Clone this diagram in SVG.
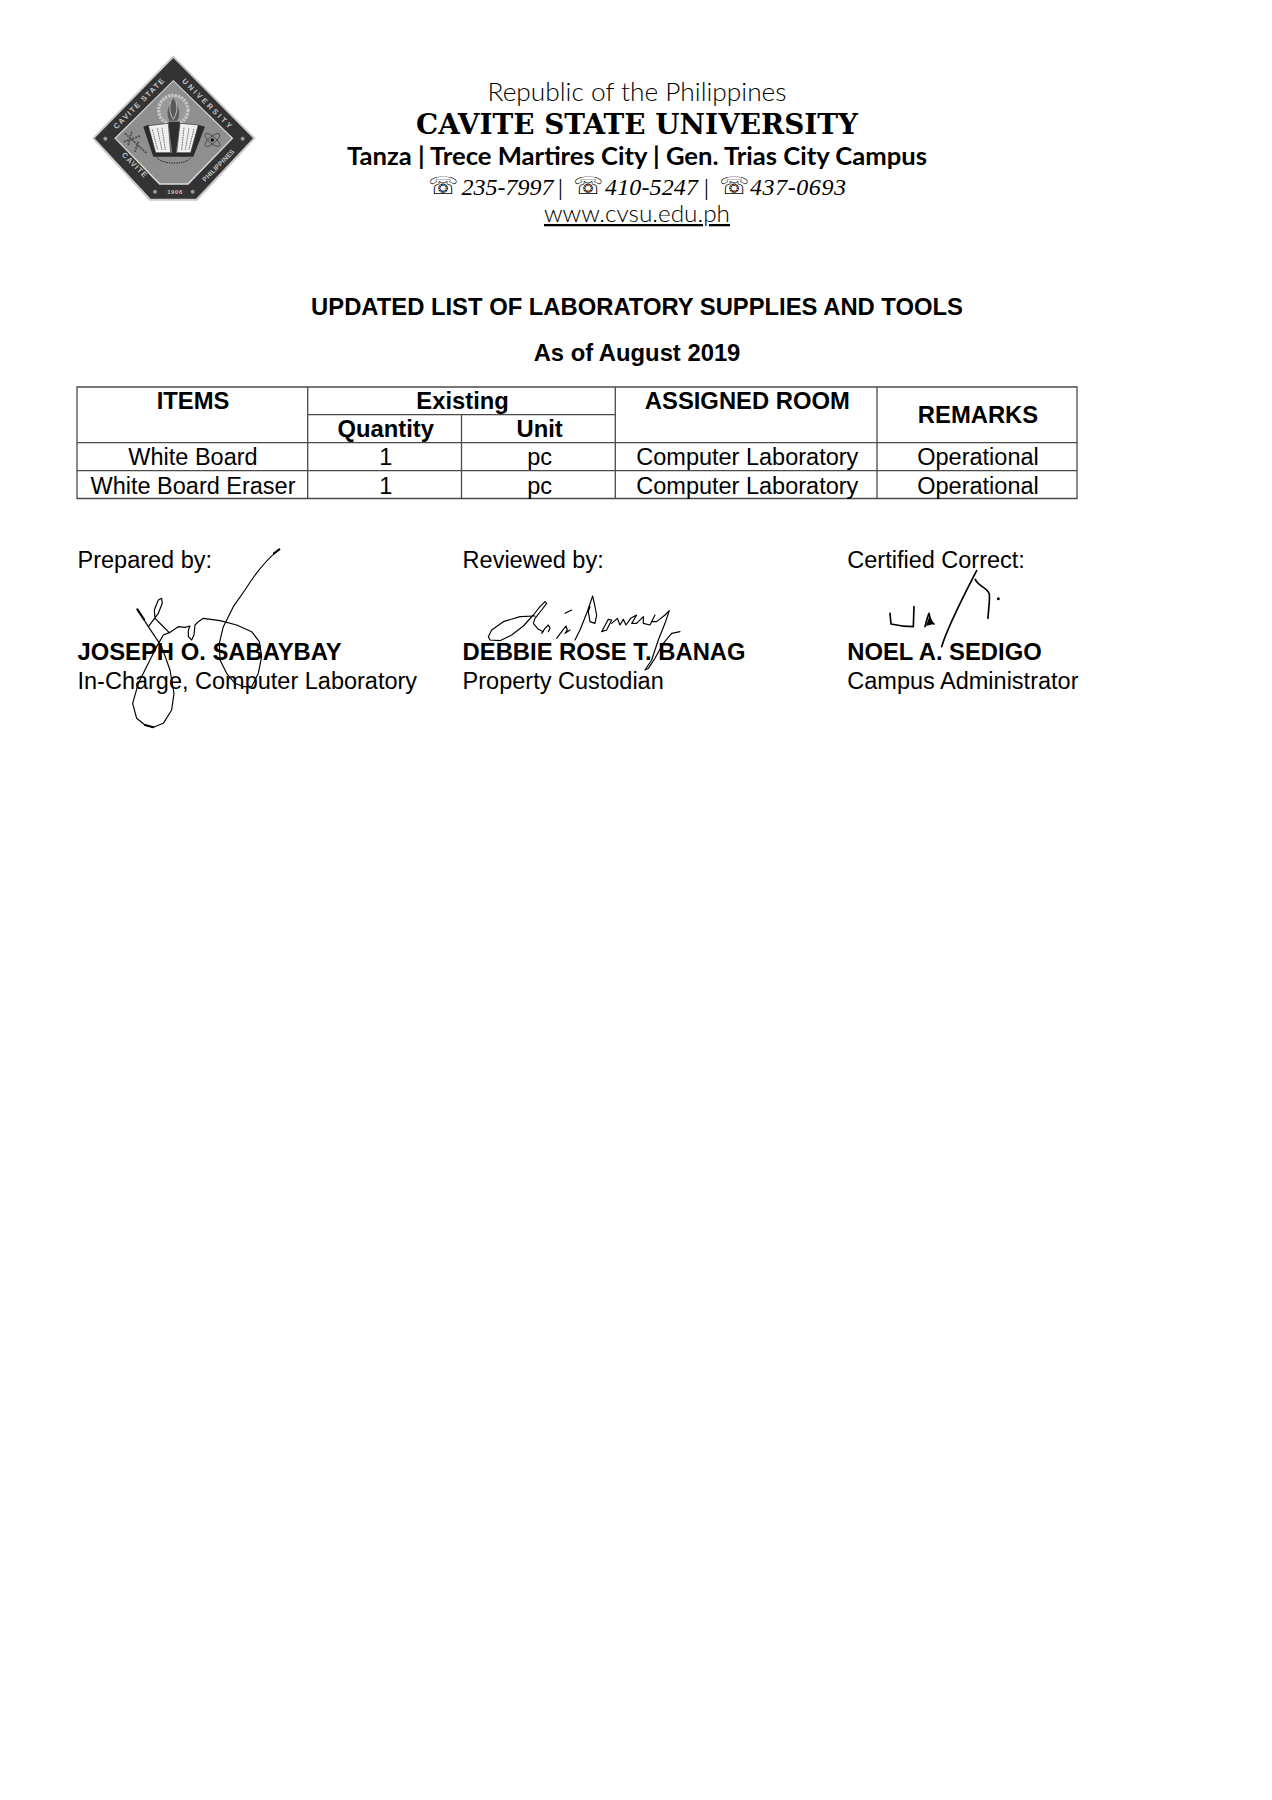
<svg xmlns="http://www.w3.org/2000/svg" width="1272" height="1800" viewBox="0 0 1272 1800">
<style>
text{fill:#000;font-family:"Liberation Sans",Arial,sans-serif}
.c{text-anchor:middle}
.n{font-size:23.5px}
.b{font-size:23.8px;font-weight:bold}
.h{font-family:Lato,"Open Sans",sans-serif}
.g{fill:none;stroke:#4a4a4a;stroke-width:1.3}
.s{fill:none;stroke:#000;stroke-width:3.5;stroke-linecap:round;stroke-linejoin:round}
.t{fill:#c4c4c4;font-size:7.5px;font-weight:bold;text-anchor:middle}
.m{font-family:"Liberation Serif",serif;font-size:24px;font-style:italic}
.p{font-family:"DejaVu Sans",sans-serif;font-size:24px}
.l{fill:none;stroke:#777;stroke-width:3;stroke-dasharray:5 2}
</style>
<rect width="1272" height="1800" fill="#fff"/>
<g id="logo" transform="translate(60,30) scale(.3333)">
<path d="M340 76L587 325L412 512H268L96 325Z" fill="#c9c9c9"/>
<path d="M340 84L579 325L408 506H272L104 325Z" fill="#333"/>
<path d="M340 150L520 325L385 464H298L163 325Z" fill="#ddd"/>
<path d="M340 154L515 325L383 460H300L168 325Z" fill="#8f8f8f"/>
<circle cx="340" cy="240" r="44" fill="#9a9a9a" stroke="#c6c6c6" stroke-width="10" stroke-dasharray="7 3"/>
<path d="M340 205C322 232 318 250 328 272H352C362 250 358 232 340 205Z" fill="#5a5a5a"/>
<path d="M332 215C326 240 332 255 340 268M348 215C354 240 348 255 340 268" fill="none" stroke="#bbb" stroke-width="3"/>
<path d="M250 290L280 380H400L435 290L414 284L390 368H292L266 284Z" fill="#2b2b2b"/>
<path d="M265 287L325 280L332 368H287Z" fill="#efefef" stroke="#333" stroke-width="2"/>
<path d="M360 280L415 285L392 368H350Z" fill="#efefef" stroke="#333" stroke-width="2"/>
<path class="l" d="M277 298L293 360M292 295L306 360M306 293L316 360M372 293L365 360M387 295L376 360M402 297L386 360"/>
<path d="M325 275H360L347 375H337Z" fill="#2f2f2f"/>
<path d="M290 382C305 405 380 405 393 382" fill="none" stroke="#222" stroke-width="3" stroke-dasharray="4 3"/>
<path d="M195 310L260 370M215 305L205 345M235 335L225 365M192 335L240 318" fill="none" stroke="#4a4a4a" stroke-width="5" stroke-dasharray="6 3"/>
<ellipse cx="457" cy="330" rx="28" ry="10" transform="rotate(40 457 330)" fill="none" stroke="#333" stroke-width="2"/>
<ellipse cx="457" cy="330" rx="28" ry="10" transform="rotate(-40 457 330)" fill="none" stroke="#333" stroke-width="2"/>
<circle cx="457" cy="330" r="5" fill="#111"/>
<circle cx="136" cy="326" r="6" fill="#999"/><circle cx="548" cy="326" r="6" fill="#999"/>
<circle cx="285" cy="485" r="6" fill="#999"/><circle cx="398" cy="485" r="6" fill="#999"/>
</g>
<g id="logo-text">
<text class="t" transform="translate(141,105) rotate(-45)" style="letter-spacing:1.4px">CAVITE STATE</text>
<text class="t" transform="translate(206,106) rotate(45)" style="letter-spacing:2.4px">UNIVERSITY</text>
<text class="t" transform="translate(133,167) rotate(45)" style="letter-spacing:1px">CAVITE</text>
<text class="t" transform="translate(220,167) rotate(-45)" style="font-size:6.5px;letter-spacing:.2px">PHILIPPINES</text>
<text class="t" x="175" y="194" style="font-size:6px;letter-spacing:.6px">1906</text>
</g>
<g id="header">
<text class="c h" x="637" y="101" font-size="25" font-weight="300" textLength="299" lengthAdjust="spacingAndGlyphs">Republic of the Philippines</text>
<text class="c" x="637" y="134" style="font-family:'DejaVu Serif',serif" font-size="27" font-weight="bold" textLength="442" lengthAdjust="spacingAndGlyphs">CAVITE STATE UNIVERSITY</text>
<text class="c h" x="637" y="165" font-size="25" font-weight="700" textLength="580" lengthAdjust="spacingAndGlyphs">Tanza | Trece Martires City | Gen. Trias City Campus</text>
<text class="p" x="428" y="194">☏</text>
<text class="m" x="461.5" y="195" textLength="92">235-7997</text>
<text class="m" x="558" y="195" style="font-style:normal">|</text>
<text class="p" x="573" y="194">☏</text>
<text class="m" x="605" y="195" textLength="93">410-5247</text>
<text class="m" x="704" y="195" style="font-style:normal">|</text>
<text class="p" x="719" y="194">☏</text>
<text class="m" x="750" y="195" textLength="96">437-0693</text>
<text class="c h" x="637" y="222" font-size="23" font-weight="300" text-decoration="underline" textLength="186" lengthAdjust="spacingAndGlyphs">www.cvsu.edu.ph</text>
</g>
<g id="title">
<text class="c b" x="637" y="315">UPDATED LIST OF LABORATORY SUPPLIES AND TOOLS</text>
<text class="c b" x="637" y="361">As of August 2019</text>
</g>
<g id="table">
<path class="g" d="M77 387H1077V498.5H77ZM307.7 387V498.5M615.3 387V498.5M877 387V498.5M307.7 414.7H615.3M461.5 414.7V498.5M77 442.7H1077M77 470.7H1077"/>
<text class="c b" x="193" y="409">ITEMS</text>
<text class="c b" x="462.6" y="409">Existing</text>
<text class="c b" x="747.3" y="409">ASSIGNED ROOM</text>
<text class="c b" x="978" y="423">REMARKS</text>
<text class="c b" x="385.7" y="437">Quantity</text>
<text class="c b" x="539.6" y="437">Unit</text>
<text class="c n" x="193" y="465">White Board</text>
<text class="c n" x="385.7" y="465">1</text>
<text class="c n" x="539.6" y="465">pc</text>
<text class="c n" x="747.3" y="465">Computer Laboratory</text>
<text class="c n" x="978" y="465">Operational</text>
<text class="c n" x="193" y="494">White Board Eraser</text>
<text class="c n" x="385.7" y="494">1</text>
<text class="c n" x="539.6" y="494">pc</text>
<text class="c n" x="747.3" y="494">Computer Laboratory</text>
<text class="c n" x="978" y="494">Operational</text>
</g>
<g id="signatories">
<text class="n" x="77.5" y="568">Prepared by:</text>
<text class="b" x="77.5" y="660">JOSEPH O. SABAYBAY</text>
<text class="n" x="77.5" y="689">In-Charge, Computer Laboratory</text>
<text class="n" x="462.6" y="568">Reviewed by:</text>
<text class="b" x="462.6" y="660">DEBBIE ROSE T. BANAG</text>
<text class="n" x="462.6" y="689">Property Custodian</text>
<text class="n" x="847.3" y="568">Certified Correct:</text>
<text class="b" x="847.3" y="660">NOEL A. SEDIGO</text>
<text class="n" x="847.3" y="689">Campus Administrator</text>
</g>
<g id="signature-1" transform="translate(120,590) scale(.3333)">
<path class="s" d="M478-122C430-85 400-40 375 0L340 50L310 110L298 160L300 210L320 250L345 280L370 290L395 290L415 250L425 200L418 155L395 125L350 105L300 92L250 85L235 95L225 105L222 135L215 150L205 140L205 120L210 108L195 112L175 110L160 120L148 128L130 135L110 170L85 220L55 280L38 340L50 385L75 405L100 412L130 400L155 360L162 310L150 240L125 170L85 110L52 58"/>
<path class="s" d="M148 128L125 105L105 85L103 60L115 30L125 25L127 40L115 70L85 110"/>
<path class="s" style="stroke-width:6" d="M52 58L72 88M478-122L462-110M75 405L100 412"/>
</g>
<g id="signature-2" transform="translate(480,590) scale(.3333)">
<path class="s" d="M165 78L120 80L70 95L35 120L25 140L30 150L60 152L95 135L130 108L160 75L180 50L195 35L200 40L185 60L165 85L160 100L175 118L190 125"/>
<path class="s" d="M185 130L195 115L205 105L210 115L205 125M230 145L245 125L258 108L262 120L255 130L270 120M255 70L275 60"/>
<path class="s" d="M285 150L300 120L320 70L338 18L343 40L350 75L345 100L330 95L325 65L330 50"/>
<path class="s" d="M365 125L385 88L395 90L380 120L365 125M395 100L412 85L420 105L430 88L438 105L452 85L470 75L455 100L470 100L490 80L490 100L510 105L525 75L515 95L530 95L555 75L568 62L555 100L535 150L515 210L495 240L505 235L525 205L550 160L575 130L600 125"/>
</g>
<g id="signature-3" transform="translate(830,530) scale(.3333)">
<path class="s" style="stroke-width:5" d="M180 250L183 282C205 287 230 290 250 290L252 230M285 290C290 270 295 255 297 250C300 265 305 278 312 282M335 350C355 285 400 200 440 122M436 148C445 170 470 170 478 192C480 215 475 240 474 265"/>
<path d="M288 288L297 262L312 282Z" fill="#000"/>
<circle cx="505" cy="206" r="4.5"/>
</g>
</svg>
